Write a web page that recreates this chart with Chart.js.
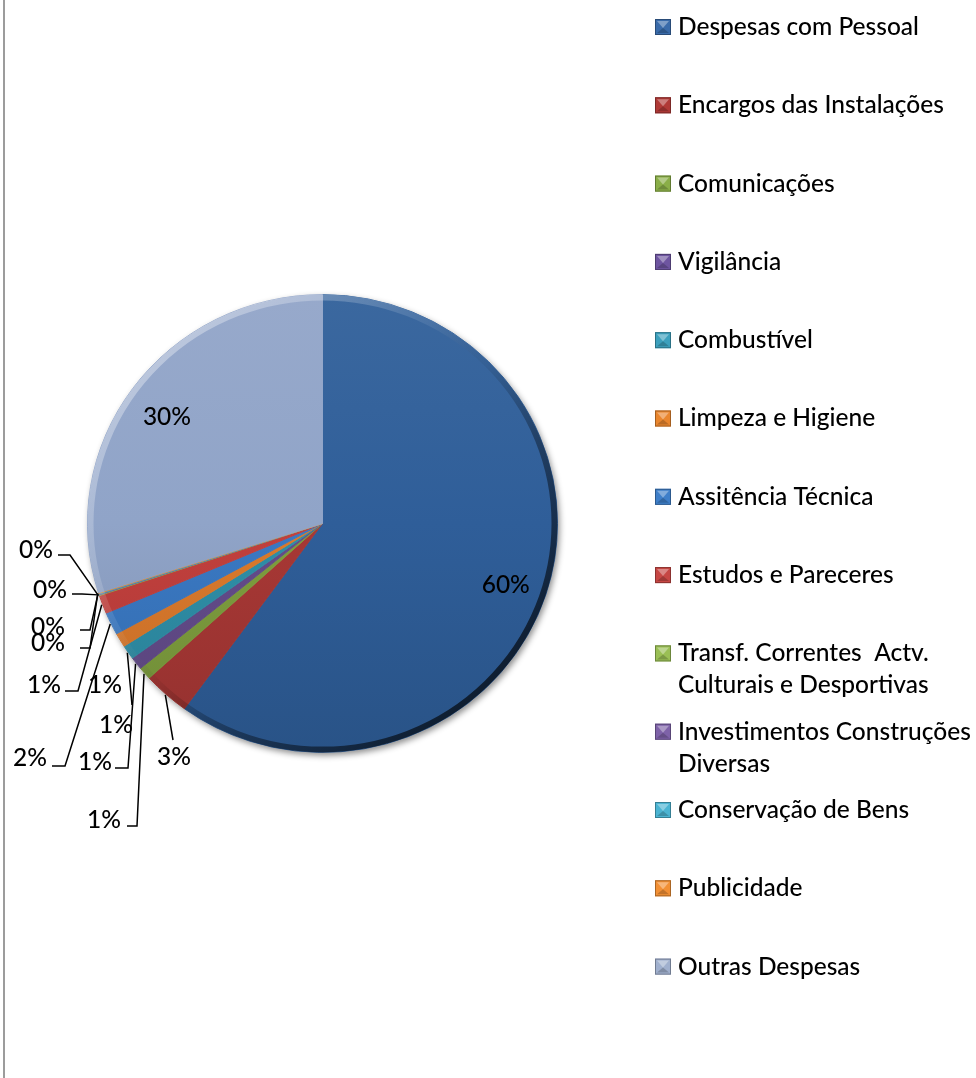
<!DOCTYPE html>
<html><head><meta charset="utf-8">
<script src="https://cdn.jsdelivr.net/npm/chart.js@4.4.1/dist/chart.umd.min.js"></script>
<style>
html,body{margin:0;padding:0;background:#fff;}
#wrap{position:relative;width:976px;height:1078px;overflow:hidden;}
#frame{position:absolute;left:3px;top:0;width:2px;height:1078px;background:#9c9c9c;}
canvas{position:absolute;left:0;top:0;}
</style></head><body>
<div id="wrap"><canvas id="c" width="976" height="1078"></canvas><div id="frame"></div></div>
<script>
// ---------- data ----------
const categories = [
  'Despesas com Pessoal',
  'Encargos das Instalações',
  'Comunicações',
  'Vigilância',
  'Combustível',
  'Limpeza e Higiene',
  'Assitência Técnica',
  'Estudos e Pareceres',
  ['Transf. Correntes  Actv.', 'Culturais e Desportivas'],
  ['Investimentos Construções', 'Diversas'],
  'Conservação de Bens',
  'Publicidade',
  'Outras Despesas'
];
const shares = [60.0, 3.2, 0.9, 0.9, 1.0, 1.0, 1.6, 1.3, 0.05, 0.05, 0.05, 0.05, 29.9];
const sliceColors = ['#2F5E99', '#A83835', '#7E9E3E', '#644C8B', '#2F8FA8', '#DB7A2C',
                     '#3A79C3', '#C2403D', '#8DB04A', '#7A5FA0', '#41A9C4', '#F08A30', '#90A4C8'];
const legendColors = ['#3A6BAA', '#B03A37', '#8AAE48', '#6E55A0', '#3CA0BD', '#E9862E',
                      '#3F7FC9', '#C64744', '#9ABF55', '#7E62A8', '#4BB4D2', '#F29035', '#A0B0CE'];

// ---------- label layout (annotation positions, not data) ----------
const FONT = '500 24.5px Lato';
const SQUASH = 0.974;   // slight vertical foreshortening of the bevelled pie
const labelLayout = [
  {inside: true},
  {x: 174, y: 757, elbow: [[173, 740]]},
  {x: 104, y: 820, elbow: [[127, 826], [137, 826]]},
  {x: 95,  y: 762, elbow: [[115, 768], [128, 768]]},
  {x: 116, y: 725, elbow: [[132, 705]]},
  {x: 105, y: 685, elbow: null},
  {x: 30,  y: 758, elbow: [[52, 766], [65, 766]]},
  {x: 44,  y: 685, elbow: [[65, 691], [78, 691]]},
  {x: 36,  y: 550, elbow: [[58, 555], [70, 555]]},
  {x: 50,  y: 590, elbow: [[72, 594], [82, 594]]},
  {x: 48,  y: 627, elbow: [[80, 630], [90, 630]]},
  {x: 48,  y: 643, elbow: [[80, 648], [90, 648]]},
  {inside: true}
];

function hexToRgb(h){h=h.replace('#','');return [parseInt(h.substr(0,2),16),parseInt(h.substr(2,2),16),parseInt(h.substr(4,2),16)];}
function mix(h, t, amt){const c=hexToRgb(h);const o=c.map((v,i)=>Math.round(v+(t[i]-v)*amt));return 'rgb('+o.join(',')+')';}
const lighten=(h,a)=>mix(h,[255,255,255],a), darken=(h,a)=>mix(h,[0,0,0],a);

const gradCache = {};
function sliceFill(ctx){
  const chart = ctx.chart, area = chart.chartArea, i = ctx.dataIndex;
  const base = sliceColors[i];
  if(!area) return base;
  const key = i+'_'+area.top+'_'+area.bottom;
  if(!gradCache[key]){
    const g = chart.ctx.createLinearGradient(0, area.top, 0, area.bottom);
    g.addColorStop(0, lighten(base, 0.06));
    g.addColorStop(0.5, base);
    g.addColorStop(1, darken(base, 0.12));
    gradCache[key] = g;
  }
  return gradCache[key];
}

const pctText = v => Math.round(v / shares.reduce((a,b)=>a+b,0) * 100) + '%';

const pieEffects = {
  id: 'pieEffects',
  beforeDatasetsDraw(chart){
    const arc = chart.getDatasetMeta(0).data[0];
    const c = chart.ctx;
    c.save();
    c.translate(0, arc.y); c.scale(1, SQUASH); c.translate(0, -arc.y);
    c.save();
    c.beginPath();
    c.arc(arc.x, arc.y, arc.outerRadius, 0, Math.PI*2);
    c.fillStyle = '#fff';
    c.shadowColor = 'rgba(0,0,0,0.45)';
    c.shadowBlur = 6; c.shadowOffsetX = 2; c.shadowOffsetY = 3;
    c.fill();
    c.restore();
  },
  afterDatasetsDraw(chart){
    const meta = chart.getDatasetMeta(0);
    const a0 = meta.data[0];
    const cx = a0.x, cy = a0.y, R = a0.outerRadius;
    const c = chart.ctx;
    // bevel rim (still under the squash transform)
    c.save();
    const g = c.createLinearGradient(cx - R*0.7, cy - R*0.7, cx + R*0.7, cy + R*0.7);
    g.addColorStop(0, 'rgba(255,255,255,0.35)');
    g.addColorStop(0.35, 'rgba(255,255,255,0.08)');
    g.addColorStop(0.5, 'rgba(0,0,0,0.05)');
    g.addColorStop(0.7, 'rgba(0,0,0,0.35)');
    g.addColorStop(1, 'rgba(0,0,0,0.65)');
    c.strokeStyle = g; c.lineWidth = 6;
    c.beginPath(); c.arc(cx, cy, R - 3, 0, Math.PI*2); c.stroke();
    c.restore();
    c.restore(); // end squash

    const sy = y => cy + (y - cy) * SQUASH;
    // data labels
    c.save();
    c.font = FONT; c.fillStyle = '#000'; c.textAlign = 'center'; c.textBaseline = 'middle';
    c.strokeStyle = '#000'; c.lineWidth = 1.5;
    meta.data.forEach((arc, i) => {
      const lay = labelLayout[i];
      const mid = (arc.startAngle + arc.endAngle) / 2;
      const txt = pctText(shares[i]);
      if(lay.inside){
        const r = arc.outerRadius * 0.82;
        c.fillText(txt, arc.x + Math.cos(mid)*r, sy(arc.y + Math.sin(mid)*r) + 4);
      } else {
        c.fillText(txt, lay.x, lay.y);
        if(lay.elbow){
          const ax = arc.x + Math.cos(mid)*(arc.outerRadius+1);
          const ay = sy(arc.y + Math.sin(mid)*(arc.outerRadius+1));
          c.beginPath();
          c.moveTo(lay.elbow[0][0], lay.elbow[0][1]);
          for(let k=1;k<lay.elbow.length;k++) c.lineTo(lay.elbow[k][0], lay.elbow[k][1]);
          c.lineTo(ax, ay);
          c.stroke();
        }
      }
    });
    c.restore();
  },
  afterDraw(chart){
    // legend
    const c = chart.ctx;
    const labels = chart.data.labels;
    const y0 = 27, step = 78.3, lineH = 32, mx = 655, tx = 678, ms = 16;
    c.save();
    c.font = FONT; c.fillStyle = '#000'; c.textBaseline = 'middle'; c.textAlign = 'left';
    labels.forEach((lab, i) => {
      const cy = y0 + i*step;
      const col = legendColors[i];
      const top = cy - ms/2;
      c.fillStyle = col;
      c.fillRect(mx, top, ms, ms);
      c.fillStyle = lighten(col, 0.35);
      c.beginPath(); c.moveTo(mx+2, top+2); c.lineTo(mx+ms-2, top+2); c.lineTo(mx+ms/2, top+ms/2+1); c.closePath(); c.fill();
      c.fillStyle = darken(col, 0.2);
      c.beginPath(); c.moveTo(mx+2, top+ms-2); c.lineTo(mx+ms-2, top+ms-2); c.lineTo(mx+ms/2, top+ms/2+1); c.closePath(); c.fill();
      c.strokeStyle = darken(col, 0.3); c.lineWidth = 1;
      c.strokeRect(mx+0.5, top+0.5, ms-1, ms-1);
      c.fillStyle = '#000';
      const lines = Array.isArray(lab) ? lab : [lab];
      lines.forEach((ln, k) => c.fillText(ln, tx, cy + k*lineH));
    });
    c.restore();
  }
};

new Chart(document.getElementById('c'), {
  type: 'pie',
  data: {
    labels: categories,
    datasets: [{
      data: shares,
      backgroundColor: sliceFill,
      borderColor: sliceFill,
      borderWidth: 1
    }]
  },
  options: {
    responsive: false,
    animation: false,
    devicePixelRatio: 1,
    layout: {padding: {left: 87, right: 418, top: 288, bottom: 319}},
    plugins: {legend: {display: false}, tooltip: {enabled: false}}
  },
  plugins: [pieEffects]
});
</script>
</body></html>
